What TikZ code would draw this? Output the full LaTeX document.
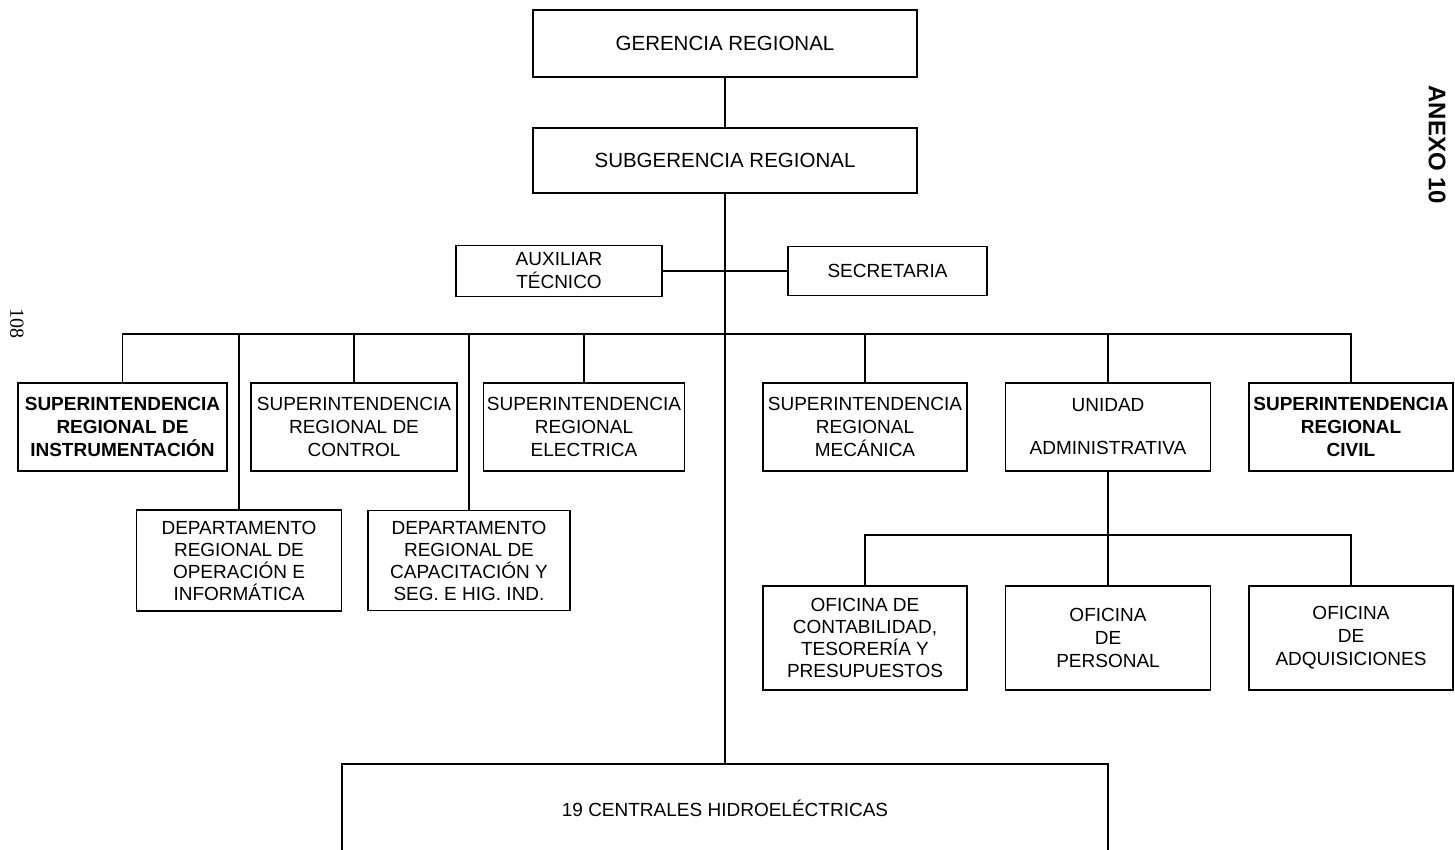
\documentclass[tikz,border=0pt]{standalone}
\usepackage{fontspec}
\setmainfont{Liberation Sans}
\newfontfamily\pagenumfont{Liberation Serif}
\begin{document}
\begin{tikzpicture}[x=1pt,y=-1pt,
  orgbox/.style={draw, line width=1.3pt, align=center, inner sep=0pt,
    font=\fontsize{19}{23}\selectfont},
  topbox/.style={orgbox, font=\fontsize{20.5}{24}\selectfont},
  quadbox/.style={orgbox, font=\fontsize{19}{22}\selectfont},
  link/.style={line width=1.3pt}]
\useasboundingbox (0,0) rectangle (1455,849);
\clip (0,0) rectangle (1455,849);

% head of the organisation
\node[topbox, minimum width=384pt, minimum height=67pt] (ger) at (725,43.5) {GERENCIA REGIONAL};
\node[topbox, minimum width=384pt, minimum height=65pt] (sub) at (725,160.5) {SUBGERENCIA REGIONAL};

% staff units
\node[orgbox, minimum width=206pt, minimum height=51pt] (aux) at (559,271) {AUXILIAR\\TÉCNICO};
\node[orgbox, minimum width=199pt, minimum height=49pt] (sec) at (887.5,271) {SECRETARIA};

% superintendencias and unidad
\node[orgbox, font=\bfseries\fontsize{19}{23}\selectfont, minimum width=209pt, minimum height=88pt] (b1) at (122.5,427)
  {SUPERINTENDENCIA\\REGIONAL DE\\INSTRUMENTACIÓN};
\node[orgbox, minimum width=206pt, minimum height=88pt] (b2) at (354,427)
  {SUPERINTENDENCIA\\REGIONAL DE\\CONTROL};
\node[orgbox, minimum width=201pt, minimum height=88pt] (b3) at (584,427)
  {SUPERINTENDENCIA\\REGIONAL\\ELECTRICA};
\node[orgbox, minimum width=204pt, minimum height=88pt] (b4) at (865,427)
  {SUPERINTENDENCIA\\REGIONAL\\MECÁNICA};
\node[orgbox, minimum width=205pt, minimum height=88pt] (b5) at (1108,427)
  {UNIDAD\\[20pt]ADMINISTRATIVA};
\node[orgbox, font=\bfseries\fontsize{19}{23}\selectfont, minimum width=204pt, minimum height=88pt] (b6) at (1351,427)
  {SUPERINTENDENCIA\\REGIONAL\\CIVIL};

% departamentos
\node[quadbox, minimum width=205pt, minimum height=101pt] (d1) at (239,560.5)
  {DEPARTAMENTO\\REGIONAL DE\\OPERACIÓN E\\INFORMÁTICA};
\node[quadbox, minimum width=202pt, minimum height=100pt] (d2) at (469,560.5)
  {DEPARTAMENTO\\REGIONAL DE\\CAPACITACIÓN Y\\SEG. E HIG. IND.};

% oficinas of the unidad administrativa
\node[quadbox, minimum width=204pt, minimum height=104pt] (o1) at (865,638)
  {OFICINA DE\\CONTABILIDAD,\\TESORERÍA Y\\PRESUPUESTOS};
\node[orgbox, minimum width=205pt, minimum height=104pt] (o2) at (1108,638)
  {OFICINA\\DE\\PERSONAL};
\node[orgbox, minimum width=204pt, minimum height=104pt] (o3) at (1351,638)
  {OFICINA\\DE\\ADQUISICIONES};

% power stations
\node[orgbox, minimum width=766pt, minimum height=88pt] (cen) at (725,808)
  {19 CENTRALES HIDROELÉCTRICAS};

% bus levels
\coordinate (busA) at (0,334);
\coordinate (busB) at (0,535);

% connectors
\draw[link] (ger) -- (sub);
\draw[link] (sub) -- (cen);
\draw[link] (aux) -- (sec);
\draw[link] (b1.north) -- (b1.north |- busA) -- (b6.north |- busA) -- (b6.north);
\foreach \n in {b2,b3,b4,b5} \draw[link] (\n.north) -- (\n.north |- busA);
\draw[link] (d1.north |- busA) -- (d1.north);
\draw[link] (d2.north |- busA) -- (d2.north);
\draw[link] (b5.south) -- (b5.south |- busB);
\draw[link] (o1.north) -- (o1.north |- busB) -- (o3.north |- busB) -- (o3.north);
\draw[link] (o2.north) -- (o2.north |- busB);

% page annotations
\node[rotate=-90, font=\bfseries\fontsize{24}{28}\selectfont] (anexo) at (1437,145) {ANEXO 10};
\node[rotate=-90, font=\pagenumfont\fontsize{20}{24}\selectfont] (pagenum) at (17,323) {108};
\end{tikzpicture}
\end{document}
